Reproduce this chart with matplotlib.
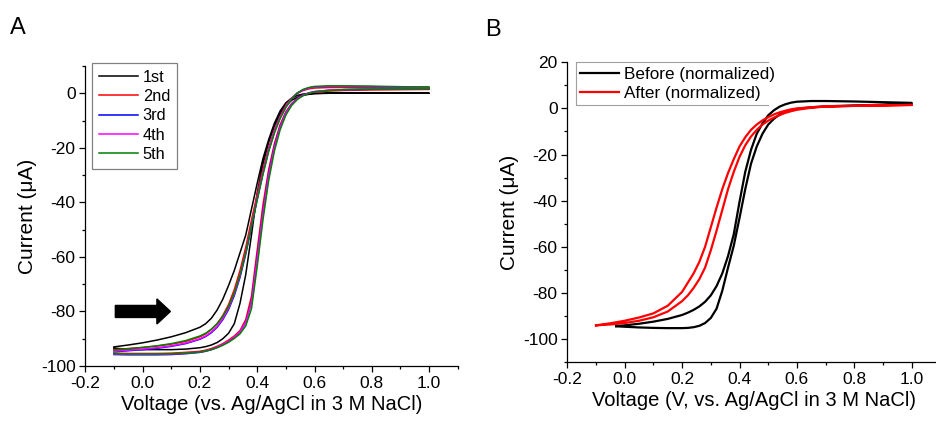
import matplotlib
matplotlib.use("Agg")
import matplotlib.pyplot as plt
from matplotlib.lines import Line2D
from matplotlib.ticker import MultipleLocator, FormatStrFormatter

plt.rcParams["font.family"] = ["Liberation Sans", "DejaVu Sans"]
plt.rcParams["axes.unicode_minus"] = False

# ---- Panel A: five successive scans (left branch = upper, right branch = lower)
volt_a = [-0.1, -0.05, 0.0, 0.05, 0.1, 0.15, 0.2, 0.22, 0.24, 0.26, 0.28, 0.30,
          0.32, 0.34, 0.36, 0.38, 0.40, 0.42, 0.44, 0.46, 0.48, 0.50, 0.52, 0.54,
          0.56, 0.58, 0.60, 0.65, 0.70, 0.80, 0.90, 1.0]

scan1_left = [-93.0, -92.3, -91.5, -90.5, -89.3, -87.8, -85.8, -84.5, -82.5, -79.5, -75.5, -70.5,
              -65.0, -58.5, -52.0, -42.5, -33.0, -24.0, -17.0, -11.0, -6.5, -3.5, -1.8, -0.8,
              -0.3, -0.1, 0.0, 0.0, 0.0, 0.0, 0.0, 0.0]
scan1_right = [-93.5, -93.8, -94.0, -94.0, -94.0, -93.8, -93.3, -92.9, -92.3, -91.4, -90.0, -88.0,
               -84.5, -77.0, -66.5, -52.0, -36.5, -26.0, -18.0, -12.0, -7.5, -4.5, -2.6, -1.5,
               -0.8, -0.4, -0.2, 0.0, 0.0, 0.0, 0.0, 0.0]
scan2_left = [-94.0, -93.6, -93.2, -92.7, -92.0, -91.0, -89.3, -88.2, -86.6, -84.5, -81.5, -77.5,
              -72.0, -65.0, -56.5, -46.5, -37.0, -28.0, -20.0, -13.5, -8.5, -4.5, -1.8, 0.0,
              1.0, 1.6, 1.9, 2.1, 2.1, 2.0, 1.9, 1.8]
scan2_right = [-95.3, -95.4, -95.4, -95.4, -95.3, -95.0, -94.6, -94.2, -93.6, -92.8, -91.8, -90.5,
               -89.0, -87.0, -83.0, -74.5, -57.5, -41.0, -28.0, -18.5, -11.5, -6.8, -3.8, -1.9,
               -0.7, 0.0, 0.4, 0.8, 1.0, 1.2, 1.3, 1.4]
scan3_left = [-94.8, -94.4, -94.0, -93.5, -92.8, -91.8, -90.2, -89.2, -87.8, -85.8, -83.0, -79.3,
              -74.2, -67.5, -59.0, -49.0, -39.0, -29.5, -21.0, -14.2, -9.0, -5.0, -2.0, 0.0,
              1.2, 1.9, 2.3, 2.5, 2.5, 2.4, 2.2, 2.1]
scan3_right = [-95.8, -95.9, -95.9, -95.9, -95.8, -95.5, -95.0, -94.6, -94.0, -93.2, -92.2, -91.0,
               -89.5, -87.5, -84.0, -76.5, -60.0, -43.5, -29.5, -19.5, -12.2, -7.2, -4.0, -2.0,
               -0.7, 0.1, 0.6, 1.1, 1.3, 1.5, 1.6, 1.7]
scan4_left = [-94.6, -94.2, -93.8, -93.3, -92.6, -91.6, -90.0, -89.0, -87.5, -85.5, -82.6, -78.8,
              -73.6, -66.8, -58.3, -48.3, -38.3, -29.0, -20.6, -13.9, -8.8, -4.8, -1.9, 0.1,
              1.2, 1.9, 2.3, 2.5, 2.5, 2.4, 2.3, 2.2]
scan4_right = [-95.6, -95.7, -95.7, -95.7, -95.6, -95.3, -94.9, -94.5, -93.9, -93.1, -92.1, -90.9,
               -89.4, -87.4, -84.0, -76.8, -60.5, -44.0, -30.0, -19.8, -12.4, -7.3, -4.1, -2.0,
               -0.7, 0.1, 0.6, 1.1, 1.3, 1.5, 1.6, 1.7]
scan5_left = [-94.2, -93.7, -93.2, -92.6, -91.8, -90.7, -89.0, -88.0, -86.5, -84.5, -81.8, -78.2,
              -73.2, -66.6, -58.5, -48.8, -39.0, -29.8, -21.4, -14.6, -9.3, -5.2, -2.1, 0.1,
              1.4, 2.1, 2.5, 2.7, 2.7, 2.6, 2.4, 2.3]
scan5_right = [-95.5, -95.6, -95.6, -95.6, -95.5, -95.3, -94.9, -94.5, -94.0, -93.3, -92.4, -91.3,
               -89.9, -88.2, -85.3, -79.0, -63.5, -46.5, -32.0, -21.2, -13.4, -8.0, -4.5, -2.3,
               -0.9, 0.0, 0.5, 1.0, 1.3, 1.5, 1.6, 1.7]

scan_labels = ["1st", "2nd", "3rd", "4th", "5th"]
scan_colors = ["black", "#ff0000", "#0000ff", "#ff00ff", "#008000"]
scans = [(scan1_left, scan1_right), (scan2_left, scan2_right), (scan3_left, scan3_right),
         (scan4_left, scan4_right), (scan5_left, scan5_right)]

# ---- Panel B: before / after, normalized
volt_before = [-0.03, 0.0, 0.05, 0.1, 0.15, 0.2, 0.22, 0.24, 0.26, 0.28, 0.30, 0.32, 0.34,
               0.36, 0.38, 0.40, 0.42, 0.44, 0.46, 0.48, 0.50, 0.52, 0.54, 0.56, 0.58, 0.60,
               0.65, 0.70, 0.80, 0.90, 1.0]
before_left = [-94.3, -94.0, -93.3, -92.4, -91.2, -89.5, -88.5, -87.3, -85.8, -83.8, -81.0, -77.0,
               -71.5, -64.0, -54.5, -40.5, -27.5, -18.0, -11.0, -6.5, -3.0, -0.8, 0.8, 1.8,
               2.5, 2.9, 3.2, 3.2, 3.0, 2.7, 2.4]
before_right = [-94.4, -94.6, -94.9, -95.1, -95.2, -95.2, -95.1, -94.8, -94.2, -93.0, -90.8, -86.8,
                -79.0, -69.0, -59.5, -47.5, -35.0, -24.0, -16.5, -11.0, -7.0, -4.5, -2.6, -1.4,
                -0.7, -0.2, 0.5, 0.9, 1.3, 1.6, 1.9]

volt_after = volt_a
after_left = [-94.0, -93.1, -92.0, -90.6, -88.8, -85.5, -79.5, -75.5, -71.5, -66.5, -60.0, -51.5,
              -43.0, -35.0, -28.0, -22.0, -16.5, -12.5, -9.3, -7.0, -5.2, -3.8, -2.6, -1.7,
              -1.0, -0.4, 0.0, 0.5, 0.8, 1.1, 1.3, 1.5]
after_right = [-94.0, -93.6, -93.0, -92.0, -90.5, -88.0, -83.5, -81.0, -77.8, -74.0, -69.0, -61.5,
               -53.0, -44.0, -35.0, -27.5, -21.0, -16.0, -12.2, -9.3, -7.0, -5.3, -4.0, -2.9,
               -1.9, -1.2, -0.6, 0.3, 0.8, 1.1, 1.3, 1.5]


def style_axis(ax, ylim, xlabel):
    ax.set_xlim(-0.2, 1.1)
    ax.set_ylim(*ylim)
    ax.spines["top"].set_visible(False)
    ax.spines["right"].set_visible(False)
    for s in ("left", "bottom"):
        ax.spines[s].set_linewidth(0.9)
    ax.xaxis.set_major_locator(MultipleLocator(0.2))
    ax.xaxis.set_minor_locator(MultipleLocator(0.1))
    ax.yaxis.set_major_locator(MultipleLocator(20))
    ax.yaxis.set_minor_locator(MultipleLocator(10))
    ax.xaxis.set_major_formatter(FormatStrFormatter("%.1f"))
    ax.tick_params(which="major", direction="out", length=4, width=0.9, labelsize=12.5, pad=3)
    ax.tick_params(which="minor", direction="out", length=2.5, width=0.9)
    ax.set_xlabel(xlabel, fontsize=14.5, labelpad=3)
    ax.set_ylabel("Current (μA)", fontsize=15, labelpad=3)


fig = plt.figure(figsize=(9.36, 4.22), dpi=100)
ax1 = fig.add_axes([0.0911, 0.1327, 0.398, 0.711])
ax2 = fig.add_axes([0.6061, 0.1415, 0.3986, 0.711])

for (left, right), lab, col in zip(scans, scan_labels, scan_colors):
    ax1.plot(volt_a + volt_a[::-1], right + left[::-1], color=col, lw=1.1, label=lab)

ax1.arrow(-0.095, -80, 0.145, 0, width=4.4, head_width=9.2, head_length=0.047,
          color="black", length_includes_head=False)
style_axis(ax1, (-100, 10), "Voltage (vs. Ag/AgCl in 3 M NaCl)")
leg1 = ax1.legend(loc="upper left", bbox_to_anchor=(0.018, 1.01), borderaxespad=0,
                  fontsize=11.8, handlelength=2.4, labelspacing=0.27, handletextpad=0.3,
                  fancybox=False, edgecolor="#808080", framealpha=1)
leg1.get_frame().set_linewidth(0.9)

ax2.plot(volt_before + volt_before[::-1], before_right + before_left[::-1],
         color="black", lw=1.6, label="Before (normalized)")
ax2.plot(volt_after + volt_after[::-1], after_right + after_left[::-1],
         color="#ff0000", lw=1.6, label="After (normalized)")
style_axis(ax2, (-110, 20), "Voltage (V, vs. Ag/AgCl in 3 M NaCl)")
leg2 = ax2.legend(loc="upper left", bbox_to_anchor=(0.0225, 1.0), borderaxespad=0,
                  fontsize=12.3, handlelength=2.3, labelspacing=0.25, handletextpad=0.3,
                  borderpad=0.25, fancybox=False, edgecolor="none", facecolor="white",
                  framealpha=1)

fig.text(0.011, 0.96, "A", fontsize=17, va="top")
fig.text(0.518, 0.955, "B", fontsize=17, va="top")

# legend B frame is open on its right side: draw top, left and bottom edges only
fig.canvas.draw()
bb = leg2.get_window_extent().transformed(fig.transFigure.inverted())
x0, y0, x1, y1 = bb.x0, bb.y0, bb.x1 - 0.012, bb.y1
for xs, ys in (([x0, x1], [y1, y1]), ([x0, x0], [y0, y1]), ([x0, x1], [y0, y0])):
    fig.add_artist(Line2D(xs, ys, color="#a0a0a0", lw=0.8, transform=fig.transFigure))

fig.savefig("out.png", dpi=100)
